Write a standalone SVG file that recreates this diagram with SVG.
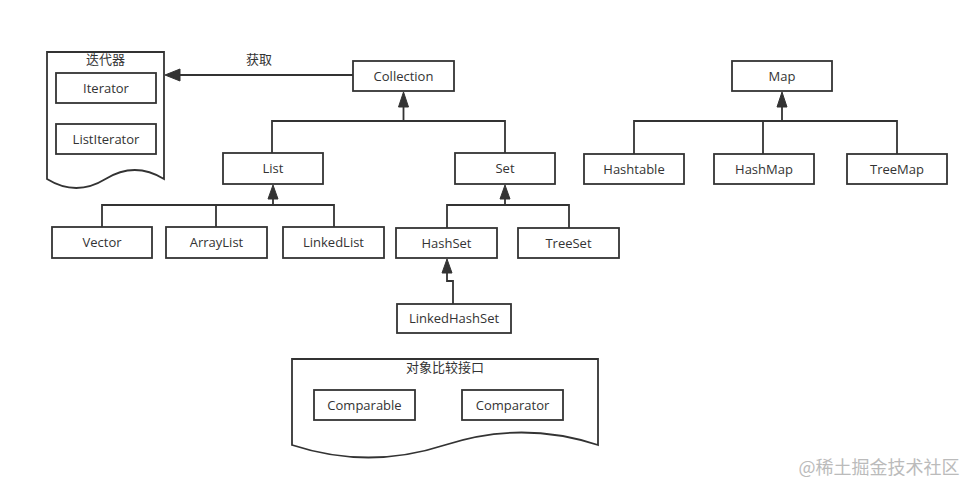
<svg xmlns="http://www.w3.org/2000/svg" width="979" height="492" viewBox="0 0 979 492">
<style>
.box{fill:#fff;stroke:#333;stroke-width:1.8}
.doc{fill:#fff;stroke:#333;stroke-width:1.8}
.ln{fill:none;stroke:#333;stroke-width:1.8}
.ah{fill:#333;stroke:#333;stroke-width:1}
text{font-family:"Open Sans","Noto Sans CJK SC",sans-serif;font-size:13px;fill:#333;text-anchor:middle;dominant-baseline:central}
.wm{fill:#bbb;font-size:18px;font-family:"Noto Sans CJK SC",sans-serif}
</style>
<rect width="979" height="492" fill="#fff"/>
<g id="iterators">
<path class="doc" d="M47,52 H164 V179 Q134.75,161 105.5,179 Q76.25,197 47,179 Z"/>
<text x="105.5" y="59">迭代器</text>
</g>
<g id="Iterator"><rect class="box" x="56" y="73" width="100" height="30"/><text x="106" y="87.5">Iterator</text></g>
<g id="ListIterator"><rect class="box" x="56" y="124" width="100" height="30"/><text x="106" y="138.5">ListIterator</text></g>
<g id="comparators">
<path class="doc" d="M292,359 H598 V445 Q521.5,420 445,445 Q368.5,470 292,445 Z"/>
<text x="445" y="367">对象比较接口</text>
</g>
<g id="Comparable"><rect class="box" x="314" y="390" width="101" height="30"/><text x="364.5" y="404.5">Comparable</text></g>
<g id="Comparator"><rect class="box" x="462" y="390" width="101" height="30"/><text x="512.5" y="404.5">Comparator</text></g>
<g id="connectors">
<path class="ln" d="M353,75 H178"/>
<path class="ah" d="M165,75 L180,69 L180,81 Z"/>
<text x="259" y="59">获取</text>
<path class="ln" d="M272,153 V121 H505 V153 M403.5,121 V105"/>
<path class="ah" d="M403.5,92 L398.5,107 L408.5,107 Z"/>
<path class="ln" d="M102,227 V205 H334 V227 M216,205 V227 M273,205 V197"/>
<path class="ah" d="M273,185 L268,199 L278,199 Z"/>
<path class="ln" d="M447,228 V205 H569 V228 M505,205 V197"/>
<path class="ah" d="M505,185 L500,199 L510,199 Z"/>
<path class="ln" d="M453,304 V281 H447 V271"/>
<path class="ah" d="M447,259 L442,273 L452,273 Z"/>
<path class="ln" d="M634,154 V121 H897 V154 M763,121 V154 M782,121 V105"/>
<path class="ah" d="M782,92 L777,107 L787,107 Z"/>
</g>
<g id="Collection"><rect class="box" x="353" y="61" width="101" height="30"/><text x="403.5" y="75.5">Collection</text></g>
<g id="List"><rect class="box" x="223" y="153" width="100" height="31"/><text x="273" y="168">List</text></g>
<g id="Set"><rect class="box" x="455" y="153" width="100" height="31"/><text x="505" y="168">Set</text></g>
<g id="Vector"><rect class="box" x="52" y="227" width="100" height="31"/><text x="102" y="242">Vector</text></g>
<g id="ArrayList"><rect class="box" x="166" y="227" width="101" height="31"/><text x="216.5" y="242">ArrayList</text></g>
<g id="LinkedList"><rect class="box" x="283" y="227" width="101" height="31"/><text x="333.5" y="242">LinkedList</text></g>
<g id="HashSet"><rect class="box" x="396" y="228" width="101" height="30"/><text x="446.5" y="242.5">HashSet</text></g>
<g id="TreeSet"><rect class="box" x="518" y="228" width="101" height="30"/><text x="568.5" y="242.5">TreeSet</text></g>
<g id="LinkedHashSet"><rect class="box" x="397" y="304" width="114" height="29"/><text x="454" y="318">LinkedHashSet</text></g>
<g id="Map"><rect class="box" x="732" y="61" width="100" height="30"/><text x="782" y="75.5">Map</text></g>
<g id="Hashtable"><rect class="box" x="584" y="154" width="100" height="30"/><text x="634" y="168.5">Hashtable</text></g>
<g id="HashMap"><rect class="box" x="714" y="154" width="100" height="30"/><text x="764" y="168.5">HashMap</text></g>
<g id="TreeMap"><rect class="box" x="847" y="154" width="100" height="30"/><text x="897" y="168.5">TreeMap</text></g>
<text class="wm" x="879" y="466">@稀土掘金技术社区</text>
</svg>
